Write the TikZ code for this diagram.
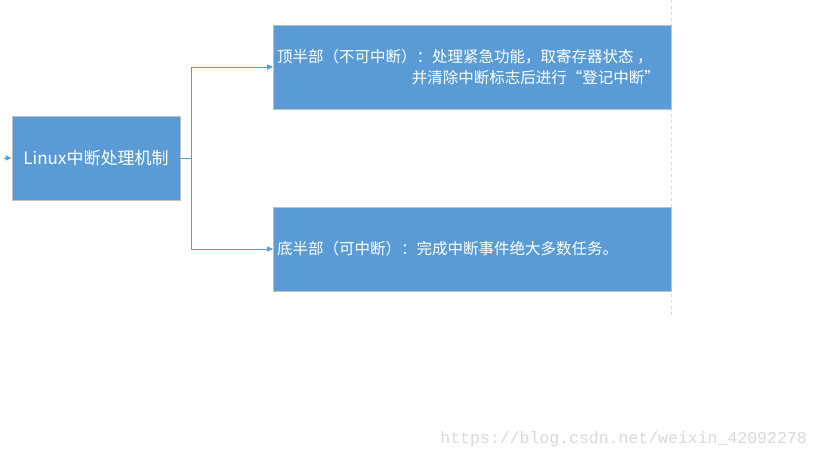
\documentclass[tikz,border=0pt]{standalone}
\usepackage{fontspec}
\newfontfamily\cjk{Noto Sans CJK SC}
\newfontfamily\markfont{Liberation Mono}
\usetikzlibrary{arrows.meta}
\definecolor{boxblue}{HTML}{5B9BD5}
\definecolor{boxedge}{HTML}{C0C0C0}
\definecolor{guide}{HTML}{D9D9D9}
\tikzset{
    block/.style={draw=boxedge,fill=boxblue,line width=0.8pt,inner sep=0pt},
    label/.style={text=white,inner sep=0pt,font=\cjk\fontsize{15.5}{18}\selectfont},
    link/.style={draw=boxblue,line width=0.9pt,-{Triangle[length=6pt,width=5pt]}},
}

\begin{document}
\begin{tikzpicture}[x=1pt,y=-1pt]
    \useasboundingbox (0,0) rectangle (819,460);
    % guide line on the right
    \draw[guide,dashed,line width=0.6pt] (671.5,0) -- (671.5,318);
    % boxes
    \node[block,minimum width=168pt,minimum height=84pt,text=white,
          font=\cjk\fontsize{17}{20}\selectfont] (main) at (96,158) {Linux中断处理机制};
    \node[block,minimum width=398pt,minimum height=84pt] (top) at (472.5,67) {};
    \node[block,minimum width=398pt,minimum height=84pt] (bottom) at (472.5,249) {};
    % texts
    \node[label,anchor=west] (toptext1) at (277,57) {顶半部（不可中断）：处理紧急功能，取寄存器状态\ ，};
    \node[label,anchor=east] (toptext2) at (660,78) {并清除中断标志后进行“登记中断”};
    \node[label,anchor=west] (bottomtext) at (277,249) {底半部（可中断）：完成中断事件绝大多数任务。};
    % connectors
    \coordinate (start) at (4,158);
    \coordinate (split) at (191,158);
    \draw[link] (start) -- (main.west);
    \draw[link] (main.east) -- (split) |- (top.west);
    \draw[link] (split) |- (bottom.west);
    % watermark
    \node[anchor=east,inner sep=0pt,text=gray!30,font=\markfont\fontsize{16.5}{18}\selectfont]
        (mark) at (807,439) {https://blog.csdn.net/weixin\_42092278};
\end{tikzpicture}
\end{document}
